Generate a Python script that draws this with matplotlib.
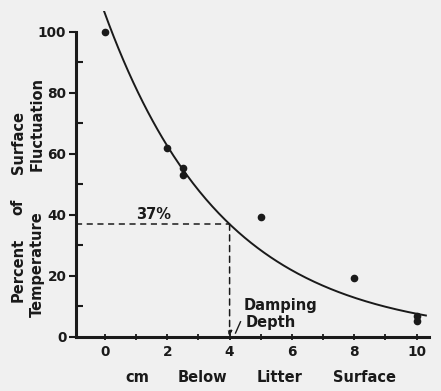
import numpy as np
import matplotlib.pyplot as plt
from matplotlib.ticker import MultipleLocator

# measured points (cm below litter surface, % of surface fluctuation)
depth_cm = [0, 2, 2.5, 2.5, 5, 8, 10, 10]
pct_fluct = [100, 62, 55.5, 53, 39.5, 19.5, 6.8, 5.2]

# fitted exponential damping curve (as drawn)
amp = 106.0
decay_len = 3.8
damping_depth = 4.0
level_37 = 37
x_ticks = [0, 2, 4, 6, 8, 10]
y_ticks = [0, 20, 40, 60, 80, 100]

plt.rcParams['font.family'] = ['DejaVu Sans']
plt.rcParams['font.weight'] = 'bold'
bg = '#f0f0f0'
ink = '#1a1a1a'

fig = plt.figure(figsize=(4.41, 3.91), dpi=100, facecolor=bg)
ax = fig.add_axes([76/441, 1-337/391, (429-76)/441, (337-10.6)/391])
ax.set_facecolor(bg)

xc = np.linspace(-0.03, 10.3, 200)
ax.plot(xc, amp*np.exp(-xc/decay_len), color=ink, lw=1.4)
ax.plot(depth_cm, pct_fluct, 'o', color=ink, ms=4.5)

# 37% construction lines
ax.plot([-0.93, damping_depth], [level_37, level_37], ls=(0, (4, 3)), color=ink, lw=1.1)
ax.annotate('', xy=(damping_depth, 0.3), xytext=(damping_depth, level_37),
            arrowprops=dict(arrowstyle='-|>', ls=(0, (4, 3)), color=ink, lw=1.1,
                            mutation_scale=7, shrinkA=0, shrinkB=0))
ax.text(1.57, 40, '37%', ha='center', va='center', fontsize=10.5, color=ink)
ax.text(4.45, 10.3, 'Damping', ha='left', va='center', fontsize=10.5, color=ink)
ax.text(4.5, 4.6, 'Depth', ha='left', va='center', fontsize=10.5, color=ink)
ax.plot([4.19, 4.35], [1.3, 5.0], color=ink, lw=1.0)

for s in ['top', 'right']:
    ax.spines[s].set_visible(False)
ax.spines['left'].set_bounds(0, 100)
for s in ['left', 'bottom']:
    ax.spines[s].set_linewidth(2.2)
    ax.spines[s].set_color(ink)

ax.set_xticks(x_ticks)
ax.set_yticks(y_ticks)
ax.xaxis.set_minor_locator(MultipleLocator(1))
ax.yaxis.set_minor_locator(MultipleLocator(10))
ax.tick_params(axis='y', which='major', direction='out', length=5, width=1.5,
               labelsize=9.8, colors=ink, pad=2)
ax.tick_params(axis='y', which='minor', direction='in', length=5, width=1.5, colors=ink)
ax.tick_params(axis='x', which='major', direction='inout', length=5, width=1.3,
               labelsize=9.8, colors=ink, pad=3)
ax.tick_params(axis='x', which='minor', direction='inout', length=5, width=1.3, colors=ink)
ax.set_xlim(-0.93, 10.4)
ax.set_ylim(0, 107)

# axis titles, word by word to keep the wide spacing
for word, px in [('cm', 137), ('Below', 202), ('Litter', 280), ('Surface', 365)]:
    fig.text(px/441, 1-377/391, word, ha='center', va='center', fontsize=10.5, color=ink)
for word, py in [('Percent', 270), ('of', 207), ('Surface', 142)]:
    fig.text(18/441, 1-py/391, word, ha='center', va='center', rotation=90,
             fontsize=10.5, color=ink)
for word, py in [('Temperature', 264), ('Fluctuation', 124)]:
    fig.text(37/441, 1-py/391, word, ha='center', va='center', rotation=90,
             fontsize=10.5, color=ink)

fig.savefig('out.png', dpi=100, facecolor=bg)
